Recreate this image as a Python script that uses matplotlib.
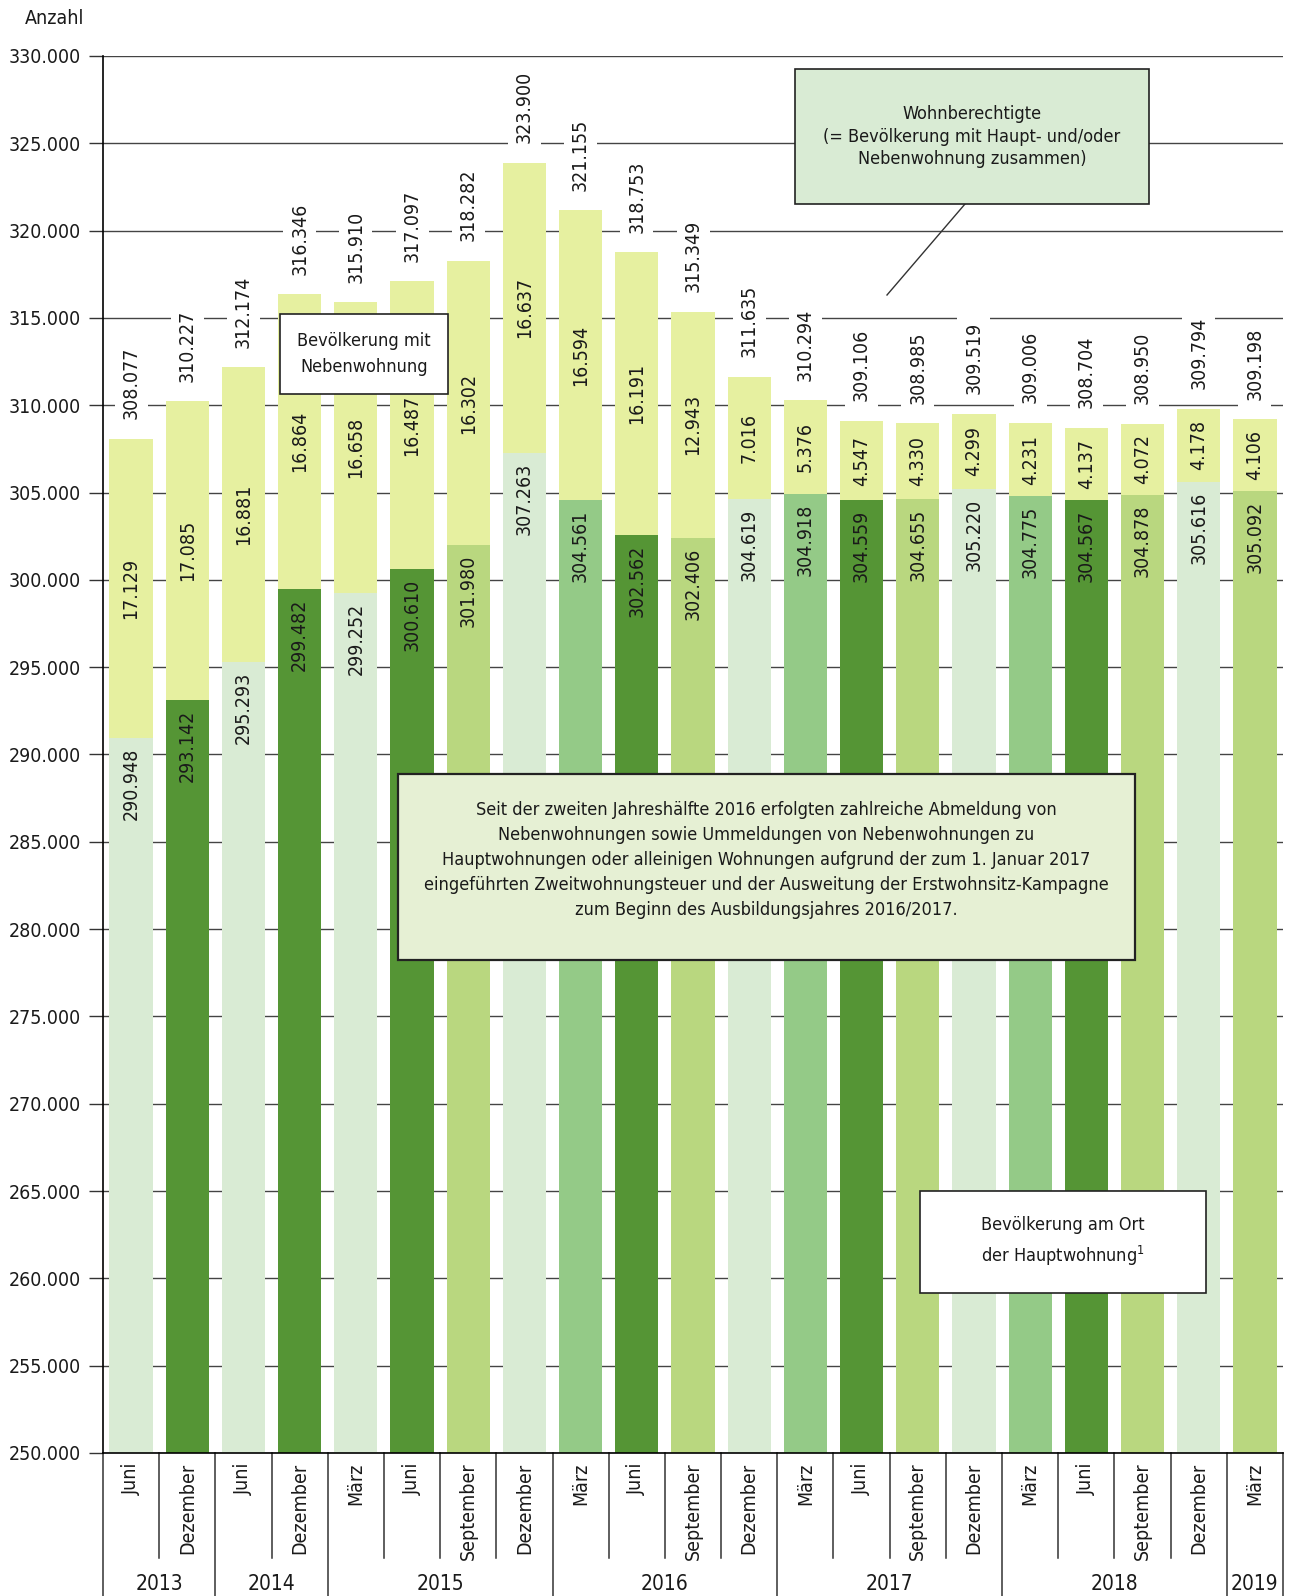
import matplotlib
matplotlib.use("Agg")
import matplotlib.pyplot as plt
from matplotlib.patches import Rectangle

plt.rcParams['font.family'] = ['DejaVu Sans']
plt.rcParams['font.stretch'] = 'condensed'

#----- Daten ----------------------------------------------------------------------------------

monate = ["Juni", "Dezember", "Juni", "Dezember", "März", "Juni", "September", "Dezember",
          "März", "Juni", "September", "Dezember", "März", "Juni", "September", "Dezember",
          "März", "Juni", "September", "Dezember", "März"]
jahre = ["2013", "2014", "2015", "2016", "2017", "2018", "2019"]
jahr_anzahl = [2, 2, 4, 4, 4, 4, 1]

hauptwohnung = [290948, 293142, 295293, 299482, 299252, 300610, 301980, 307263, 304561, 302562,
                302406, 304619, 304918, 304559, 304655, 305220, 304775, 304567, 304878, 305616,
                305092]
nebenwohnung = [17129, 17085, 16881, 16864, 16658, 16487, 16302, 16637, 16594, 16191,
                12943, 7016, 5376, 4547, 4330, 4299, 4231, 4137, 4072, 4178, 4106]
wohnberechtigte = [308077, 310227, 312174, 316346, 315910, 317097, 318282, 323900, 321155, 318753,
                   315349, 311635, 310294, 309106, 308985, 309519, 309006, 308704, 308950, 309794,
                   309198]

#----- Farben ---------------------------------------------------------------------------------

hell = "#d9ebd4"
dunkel = "#559535"
mittel = "#94ca87"
gelbgruen = "#b9d77f"
oben = "#e6f0a0"
farben = [hell, dunkel, hell, dunkel, hell, dunkel, gelbgruen, hell,
          mittel, dunkel, gelbgruen, hell, mittel, dunkel, gelbgruen, hell,
          mittel, dunkel, gelbgruen, hell, gelbgruen]
txt = "#1a1a1a"
fs = 14


def fmt(v):
    return f"{v:,}".replace(",", ".")


#----- Plot -----------------------------------------------------------------------------------

W, H = 1290, 1596
fig = plt.figure(figsize=(W / 100, H / 100), dpi=100)
ax = fig.add_axes([103 / W, 1 - 1453 / H, (1283 - 103) / W, 1397 / H])

x = list(range(len(monate)))
ax.bar(x, [h - 250000 for h in hauptwohnung], bottom=250000, width=0.77, color=farben, zorder=2)
ax.bar(x, nebenwohnung, bottom=hauptwohnung, width=0.77, color=oben, zorder=2)

ax.set_xlim(-0.5, len(monate) - 0.5)
ax.set_ylim(250000, 330000)
ax.set_yticks(range(250000, 330001, 5000))
ax.set_yticklabels([fmt(v) for v in range(250000, 330001, 5000)], fontsize=fs, color=txt)
ax.tick_params(axis='y', length=10, width=1, color="#333333", pad=6)
ax.set_xticks([])
for s in ["top", "right"]:
    ax.spines[s].set_visible(False)
ax.spines["left"].set_linewidth(1.2)
ax.spines["bottom"].set_linewidth(1.2)
ax.yaxis.grid(True, color="#444444", linewidth=1.0, zorder=0)
ax.set_axisbelow(True)

for i in x:
    ax.annotate(fmt(wohnberechtigte[i]), (i, wohnberechtigte[i]), xytext=(0, 14),
                textcoords="offset points", rotation=90, ha="center", va="bottom",
                fontsize=fs, color=txt, zorder=4,
                bbox=dict(fc="white", ec="none", pad=5))
    ax.text(i, hauptwohnung[i] + nebenwohnung[i] / 2, fmt(nebenwohnung[i]), rotation=90,
            ha="center", va="center", fontsize=fs, color=txt, zorder=3)
    ax.annotate(fmt(hauptwohnung[i]), (i, hauptwohnung[i]), xytext=(0, -7),
                textcoords="offset points", rotation=90, ha="center", va="top",
                fontsize=fs, color=txt, zorder=3)

# x-Achse: Monate und Jahre
tr = ax.get_xaxis_transform()
for i, m in enumerate(monate):
    ax.text(i, -0.007, m, rotation=90, ha="center", va="top", transform=tr,
            fontsize=fs, color=txt)
grenzen = [0]
for n in jahr_anzahl:
    grenzen.append(grenzen[-1] + n)
for b in range(1, len(monate)):
    if b not in grenzen:
        ax.plot([b - 0.5, b - 0.5], [0, -0.0752], transform=tr, color="#333333",
                linewidth=1.1, clip_on=False)
for b in grenzen:
    ax.plot([b - 0.5, b - 0.5], [0, -0.11], transform=tr, color="#333333",
            linewidth=1.1, clip_on=False)
for j, jahr in enumerate(jahre):
    mitte = (grenzen[j] + grenzen[j + 1]) / 2 - 0.5
    ax.text(mitte, -0.094, jahr, ha="center", va="center", transform=tr,
            fontsize=fs + 1, color=txt)

fig.text(25 / W, 1 - 18 / H, "Anzahl", ha="left", va="center", fontsize=fs, color=txt)


# Kaesten
def kasten(x0, y0, x1, y1, fc, text, lw=1.2, fsz=13, ls=1.5, dy=0):
    fig.patches.append(Rectangle((x0 / W, 1 - y1 / H), (x1 - x0) / W, (y1 - y0) / H,
                                 transform=fig.transFigure, facecolor=fc, edgecolor="#222222",
                                 linewidth=lw, zorder=5))
    fig.text((x0 + x1) / 2 / W, 1 - ((y0 + y1) / 2 + dy) / H, text, ha="center", va="center",
             fontsize=fsz, color=txt, linespacing=ls, zorder=6)


kasten(280, 314, 448, 394, "white", "Bevölkerung mit\nNebenwohnung")
kasten(795, 69, 1149, 204, "#d9ebd4",
       "Wohnberechtigte\n(= Bevölkerung mit Haupt- und/oder\nNebenwohnung zusammen)", ls=1.35)
fig.lines.append(plt.Line2D([965 / W, 887 / W], [1 - 204 / H, 1 - 295 / H],
                            transform=fig.transFigure, color="#333333", linewidth=1))
kasten(398, 774, 1135, 960, "#e6f0d4",
       "Seit der zweiten Jahreshälfte 2016 erfolgten zahlreiche Abmeldung von\n"
       "Nebenwohnungen sowie Ummeldungen von Nebenwohnungen zu\n"
       "Hauptwohnungen oder alleinigen Wohnungen aufgrund der zum 1. Januar 2017\n"
       "eingeführten Zweitwohnungsteuer und der Ausweitung der Erstwohnsitz-Kampagne\n"
       "zum Beginn des Ausbildungsjahres 2016/2017.", lw=1.6, dy=-7)
kasten(920, 1191, 1206, 1293, "white", "Bevölkerung am Ort\nder Hauptwohnung$^1$")

fig.savefig("out.png", dpi=100)
